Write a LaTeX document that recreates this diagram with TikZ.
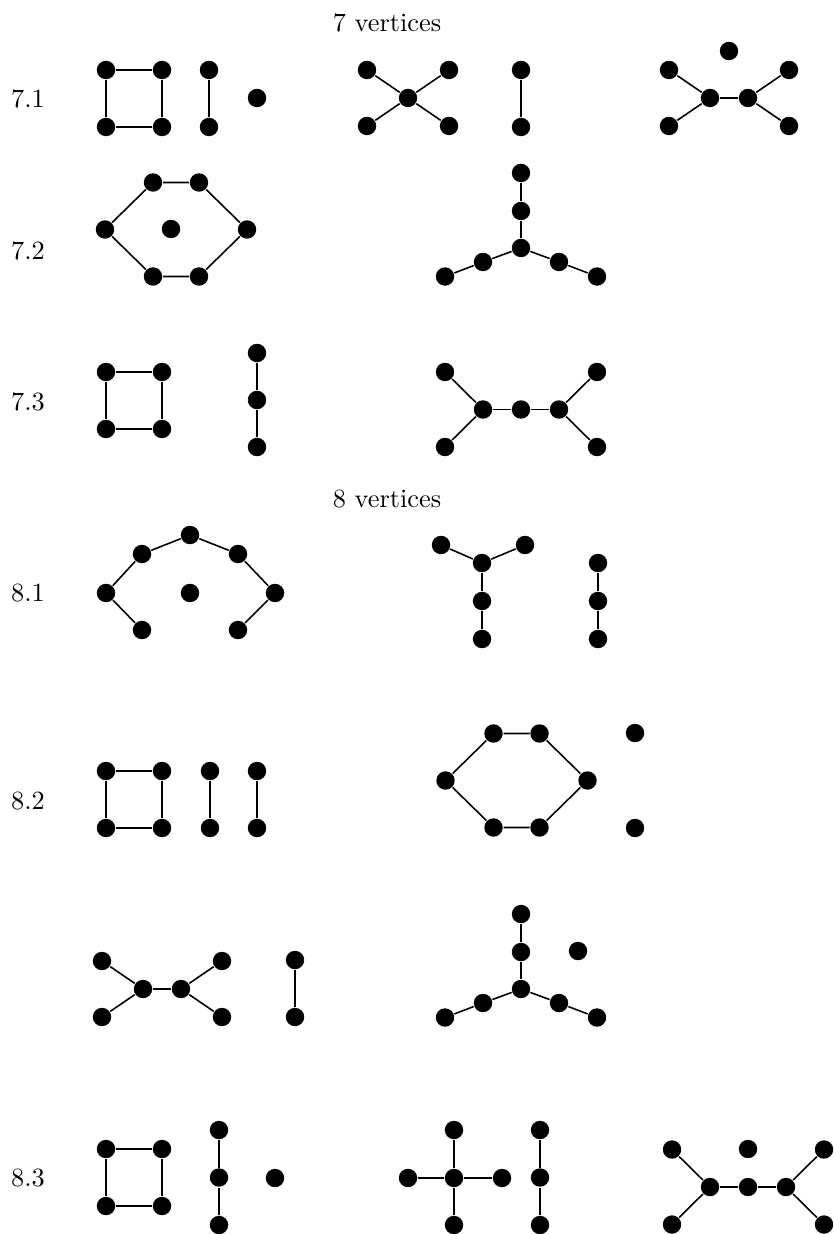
\documentclass[tikz,border=0pt]{standalone}
\usepackage{xcolor}
\usetikzlibrary{math}

\tikzset{vx/.style={circle,fill=black,inner sep=0pt,minimum size=7pt}}

\begin{document}
\begin{tikzpicture}[x=0.38pt,y=-0.38pt,line width=0.6pt]
\tikzmath{
\lx=28;
\mx=387;
}
\useasboundingbox (0,0) rectangle (833,1234);

\node (t7) at (\mx,23) {7 vertices};
\node (t8) at (\mx,499) {8 vertices};
\node (l71) at (\lx,99) {7.1};
\node (l72) at (\lx,251) {7.2};
\node (l73) at (\lx,402) {7.3};
\node (l81) at (\lx,593) {8.1};
\node (l82) at (\lx,801) {8.2};
\node (l83) at (\lx,1178) {8.3};

% squares
\foreach \x/\y/\n in {106/70/qa,106/372/qb,106/771/qc,106/1149/qd}{
\node[vx] (\n1) at (\x,\y) {};
\node[vx] (\n2) at (\x+56,\y) {};
\node[vx] (\n3) at (\x+56,\y+57) {};
\node[vx] (\n4) at (\x,\y+57) {};
\draw (\n1) -- (\n2) -- (\n3) -- (\n4) -- (\n1);
}

% single edges
\foreach \x/\y/\n in {209/70/ea,521/70/eb,210/771/ec,257/771/ee,295/960/ef}{
\node[vx] (\n1) at (\x,\y) {};
\node[vx] (\n2) at (\x,\y+57) {};
\draw (\n1) -- (\n2);
}

% paths on three vertices
\foreach \x/\y/\s/\n in {257/353/47/pa,598/563/38/pb,219/1130/47.5/pc,540/1130/47.5/pd}{
\node[vx] (\n1) at (\x,\y) {};
\node[vx] (\n2) at (\x,\y+\s) {};
\node[vx] (\n3) at (\x,\y+2*\s) {};
\draw (\n1) -- (\n2) -- (\n3);
}

% isolated vertices
\foreach \x/\y [count=\i] in {257/98,729/51,171/229,190/593,635/733,635/828,578/951,275/1178,748/1149}{
\node[vx] (iso\i) at (\x,\y) {};
}

% short double stars
\foreach \x/\y/\n in {729/98/da,162/989/db}{
\node[vx] (\n1) at (\x-19,\y) {};
\node[vx] (\n2) at (\x+19,\y) {};
\node[vx] (\n3) at (\x-60,\y-28) {};
\node[vx] (\n4) at (\x-60,\y+28) {};
\node[vx] (\n5) at (\x+60,\y-28) {};
\node[vx] (\n6) at (\x+60,\y+28) {};
\draw (\n3) -- (\n1) -- (\n4);
\draw (\n5) -- (\n2) -- (\n6);
\draw (\n1) -- (\n2);
}

% long double stars
\foreach \x/\y/\n in {521/409.5/ga,748/1187/gb}{
\node[vx] (\n1) at (\x-38,\y) {};
\node[vx] (\n2) at (\x,\y) {};
\node[vx] (\n3) at (\x+38,\y) {};
\node[vx] (\n4) at (\x-76,\y-37.5) {};
\node[vx] (\n5) at (\x-76,\y+37.5) {};
\node[vx] (\n6) at (\x+76,\y-37.5) {};
\node[vx] (\n7) at (\x+76,\y+37.5) {};
\draw (\n4) -- (\n1) -- (\n5);
\draw (\n6) -- (\n3) -- (\n7);
\draw (\n1) -- (\n2) -- (\n3);
}

% spiders
\foreach \x/\y/\n in {521/248/sa,521/989/sb}{
\node[vx] (\n0) at (\x,\y) {};
\node[vx] (\n1) at (\x,\y-37) {};
\node[vx] (\n2) at (\x,\y-75) {};
\node[vx] (\n3) at (\x-38,\y+14) {};
\node[vx] (\n4) at (\x-76,\y+28.5) {};
\node[vx] (\n5) at (\x+38,\y+14) {};
\node[vx] (\n6) at (\x+76,\y+28.5) {};
\draw (\n2) -- (\n1) -- (\n0);
\draw (\n4) -- (\n3) -- (\n0) -- (\n5) -- (\n6);
}

% hexagons
\foreach \x/\y/\n in {176/229.5/ha,516.5/780.5/hb}{
\node[vx] (\n1) at (\x-23,\y-47) {};
\node[vx] (\n2) at (\x+23,\y-47) {};
\node[vx] (\n3) at (\x+71,\y) {};
\node[vx] (\n4) at (\x+23,\y+47) {};
\node[vx] (\n5) at (\x-23,\y+47) {};
\node[vx] (\n6) at (\x-71,\y) {};
\draw (\n1) -- (\n2) -- (\n3) -- (\n4) -- (\n5) -- (\n6) -- (\n1);
}

% stars
\node[vx] (xc) at (408,98) {};
\foreach \dx/\dy [count=\i] in {-41/-28,41/-28,-41/28,41/28}{
\node[vx] (x\i) at (408+\dx,98+\dy) {};
\draw (xc) -- (x\i);
}
\node[vx] (pc) at (454,1178) {};
\foreach \dx/\dy [count=\i] in {0/-48,0/47,-46/0,48/0}{
\node[vx] (pl\i) at (454+\dx,1178+\dy) {};
\draw (pc) -- (pl\i);
}

% open arc of 8.1
\node[vx] (a1) at (142,630) {};
\node[vx] (a2) at (106,593) {};
\node[vx] (a3) at (142,554) {};
\node[vx] (a4) at (190,535) {};
\node[vx] (a5) at (238,554) {};
\node[vx] (a6) at (275,593) {};
\node[vx] (a7) at (238,630) {};
\draw (a1) -- (a2) -- (a3) -- (a4) -- (a5) -- (a6) -- (a7);

% Y tree of 8.1
\node[vx] (y0) at (482,563) {};
\node[vx] (y1) at (441,545) {};
\node[vx] (y2) at (525,545) {};
\node[vx] (y3) at (482,601) {};
\node[vx] (y4) at (482,639) {};
\draw (y1) -- (y0) -- (y2);
\draw (y0) -- (y3) -- (y4);

\end{tikzpicture}
\end{document}
